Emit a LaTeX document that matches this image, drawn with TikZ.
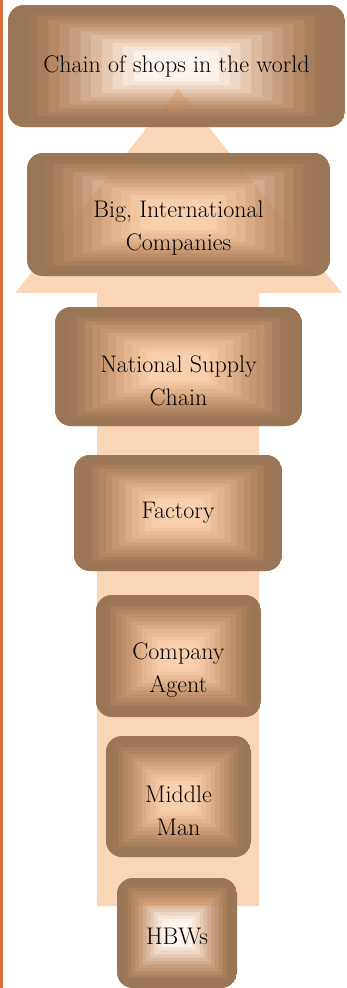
\documentclass[tikz,border=0pt]{standalone}
\usetikzlibrary{calc,fadings}
\definecolor{shadebrown}{RGB}{150,115,85}
\definecolor{warmtan}{RGB}{225,160,110}
\definecolor{arrowpeach}{RGB}{251,214,182}
\definecolor{sidebar}{RGB}{214,110,60}
% rectangular fadings: opaque at the rim, clear in the middle
\begin{tikzfadingfrompicture}[name=brownfade]
\foreach \i in {0,...,17}{
  \pgfmathsetmacro{\s}{1-\i/18}
  \pgfmathtruncatemacro{\g}{100*0.95*(max(0,min(1,(\s-0.2)/0.6)))^1.6}
  \fill[white!\g!black] ({-1cm*\s},{-1cm*\s}) rectangle ({1cm*\s},{1cm*\s});
}
\end{tikzfadingfrompicture}
\begin{tikzfadingfrompicture}[name=warmfade]
\foreach \i in {0,...,17}{
  \pgfmathsetmacro{\s}{1-\i/18}
  \pgfmathtruncatemacro{\g}{100*max(0.12,min(1,0.12+0.88*(\s-0.2)/0.55))}
  \fill[white!\g!black] ({-1cm*\s},{-1cm*\s}) rectangle ({1cm*\s},{1cm*\s});
}
\end{tikzfadingfrompicture}
\begin{document}
\begin{tikzpicture}[x=1pt,y=-1pt,
  stage/.style={rounded corners=16pt, inner sep=0pt, draw=none,
    path picture={
      \fill[warmtan, path fading=warmfade]
        (path picture bounding box.south west) rectangle (path picture bounding box.north east);
      \fill[shadebrown, path fading=brownfade]
        (path picture bounding box.south west) rectangle (path picture bounding box.north east);
    }},
  caption/.style={align=center, font=\fontsize{24}{33}\selectfont}]
\useasboundingbox (0,0) rectangle (346,988);
\fill[sidebar] (0,0) rectangle (3,988);
% big arrow behind the stages
\fill[arrowpeach] (97,906) -- (259,906) -- (259,293) -- (342,293) -- (178,89) -- (15,293) -- (97,293) -- cycle;
% stages, top to bottom
\node[stage, minimum width=337pt, minimum height=122pt] (chain) at (176.5,66) {};
\node[caption] (chain-t) at (chain.center) {Chain of shops in the world};
\node[stage, minimum width=303pt, minimum height=123pt] (big) at (178.5,214.5) {};
\node[caption] (big-t) at ([yshift=-14pt]big.center) {Big, International\\Companies};
\node[stage, minimum width=247pt, minimum height=119pt] (national) at (178.5,366.5) {};
\node[caption] (national-t) at ([yshift=-14pt]national.center) {National Supply\\Chain};
\node[stage, minimum width=208pt, minimum height=116pt] (factory) at (178,513) {};
\node[caption] (factory-t) at (factory.center) {Factory};
\node[stage, minimum width=165pt, minimum height=122pt] (agent) at (178.5,656) {};
\node[caption] (agent-t) at ([yshift=-14pt]agent.center) {Company\\Agent};
\node[stage, minimum width=145pt, minimum height=121pt] (middle) at (178.5,796.5) {};
\node[caption] (middle-t) at ([yshift=-14pt]middle.center) {Middle\\Man};
\node[stage, minimum width=120pt, minimum height=110pt] (hbws) at (177,933) {};
\node[caption] (hbws-t) at ([yshift=-3pt]hbws.center) {HBWs};
\end{tikzpicture}
\end{document}
